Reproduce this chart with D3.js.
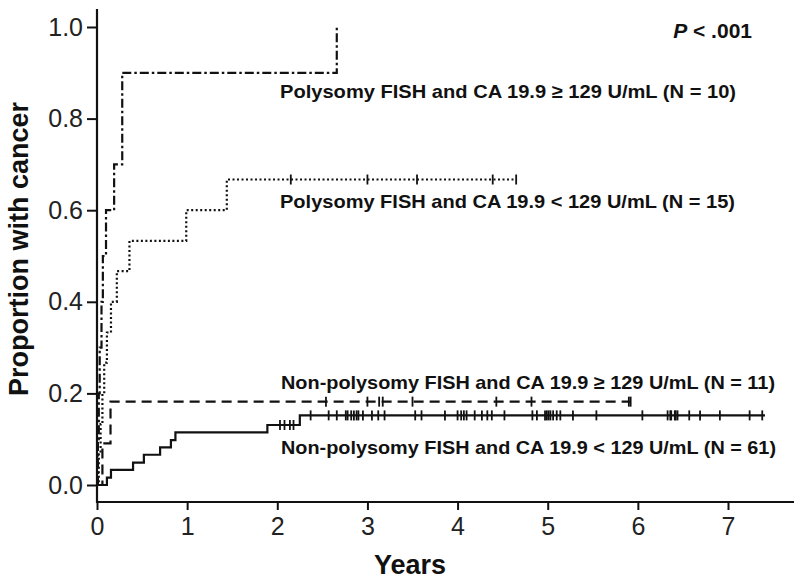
<!DOCTYPE html>
<html>
<head>
<meta charset="utf-8">
<script src="https://cdn.jsdelivr.net/npm/d3@7"></script>
<style>
  body { margin: 0; background: #fff; }
  svg { font-family: "Liberation Sans", Arial, Helvetica, sans-serif; }
</style>
</head>
<body>
<svg id="chart" width="800" height="580"></svg>
<script>
// axis ticks
var yearTicks = [0, 1, 2, 3, 4, 5, 6, 7];
var proportionTicks = [0, 0.2, 0.4, 0.6, 0.8, 1.0];

// Polysomy FISH, CA 19.9 >= 129 (N = 10)
var polyHighTimes = [0.01, 0.02, 0.03, 0.05, 0.065, 0.10, 0.19, 0.28, 0.28, 2.66];
var polyHighLevels = [0.1, 0.2, 0.3, 0.4, 0.5, 0.6, 0.7, 0.8, 0.9, 1.0];
var polyHighCensor = [];
var polyHighEnd = 2.66;

// Polysomy FISH, CA 19.9 < 129 (N = 15)
var polyLowTimes = [0.02, 0.04, 0.06, 0.08, 0.11, 0.155, 0.22, 0.36, 0.99, 1.44];
var polyLowLevels = [0.067, 0.133, 0.2, 0.267, 0.333, 0.4, 0.467, 0.533, 0.6, 0.667];
var polyLowCensor = [2.15, 3.0, 3.55, 4.39, 4.65];
var polyLowEnd = 4.65;

// Non-polysomy FISH, CA 19.9 >= 129 (N = 11)
var nonHighTimes = [0.06, 0.15];
var nonHighLevels = [0.091, 0.182];
var nonHighCensor = [2.54, 3.0, 3.13, 3.17, 3.5, 4.43, 4.82, 5.9, 5.92];
var nonHighEnd = 5.92;

// Non-polysomy FISH, CA 19.9 < 129 (N = 61)
var nonLowTimes = [0.11, 0.155, 0.40, 0.52, 0.70, 0.82, 0.87, 1.89, 2.25];
var nonLowLevels = [0.016, 0.033, 0.049, 0.066, 0.082, 0.098, 0.115, 0.131, 0.152];
var nonLowCensor = [2.03, 2.08, 2.14, 2.18,
  2.37, 2.57, 2.66, 2.76, 2.78, 2.82, 2.85, 2.88, 2.90, 2.95, 3.05, 3.12, 3.19,
  3.53, 3.60, 3.86, 4.00, 4.04, 4.07, 4.10, 4.19, 4.27, 4.33, 4.38, 4.52,
  4.83, 4.88, 4.97, 4.99, 5.01, 5.03, 5.06, 5.10, 5.14, 5.28, 5.54,
  6.05, 6.33, 6.36, 6.37, 6.41, 6.42, 6.44, 6.57, 6.69, 6.91, 7.24, 7.38];
var nonLowEnd = 7.41;

var seriesLabels = [
  'Polysomy FISH and CA 19.9 \u2265 129 U/mL (N = 10)',
  'Polysomy FISH and CA 19.9 < 129 U/mL (N = 15)',
  'Non-polysomy FISH and CA 19.9 \u2265 129 U/mL (N = 11)',
  'Non-polysomy FISH and CA 19.9 < 129 U/mL (N = 61)'
];

var svg = d3.select('#chart');

var x = d3.scaleLinear().domain([0, 7]).range([97, 728]);
var y = d3.scaleLinear().domain([0, 1]).range([485, 27]);

var axisLeftX = 97, axisBottomY = 502;

// axis lines
svg.append('line')
  .attr('x1', axisLeftX).attr('x2', axisLeftX)
  .attr('y1', 9).attr('y2', axisBottomY + 1)
  .attr('stroke', '#111').attr('stroke-width', 2.2);
svg.append('line')
  .attr('x1', axisLeftX - 1).attr('x2', 794)
  .attr('y1', axisBottomY).attr('y2', axisBottomY)
  .attr('stroke', '#111').attr('stroke-width', 2.2);

var yAxis = svg.append('g')
  .attr('transform', 'translate(' + axisLeftX + ',0)')
  .call(d3.axisLeft(y).tickValues(proportionTicks).tickFormat(d3.format('.1f'))
    .tickSize(10).tickPadding(4));
yAxis.select('.domain').remove();
yAxis.selectAll('line').attr('stroke', '#111').attr('stroke-width', 2);
yAxis.selectAll('text').attr('font-size', 25).attr('fill', '#222');

var xAxis = svg.append('g')
  .attr('transform', 'translate(0,' + axisBottomY + ')')
  .call(d3.axisBottom(x).tickValues(yearTicks).tickFormat(d3.format('d'))
    .tickSize(8).tickPadding(7));
xAxis.select('.domain').remove();
xAxis.selectAll('line').attr('stroke', '#111').attr('stroke-width', 2);
xAxis.selectAll('text').attr('font-size', 25).attr('fill', '#222');

// axis titles
svg.append('text')
  .attr('transform', 'translate(28,249) rotate(-90)')
  .attr('text-anchor', 'middle')
  .attr('font-size', 27).attr('font-weight', 'bold').attr('fill', '#111')
  .text('Proportion with cancer');
svg.append('text')
  .attr('x', 410).attr('y', 574)
  .attr('text-anchor', 'middle')
  .attr('font-size', 27).attr('font-weight', 'bold').attr('fill', '#111')
  .text('Years');

var pText = svg.append('text')
  .attr('x', 752).attr('y', 38)
  .attr('text-anchor', 'end')
  .attr('font-size', 21).attr('font-weight', 'bold').attr('fill', '#111');
pText.append('tspan').attr('font-style', 'italic').text('P');
pText.append('tspan').text(' < .001');

// km curves
var stepLine = d3.line()
  .x(function(d) { return x(d[0]); })
  .y(function(d) { return y(d[1]); })
  .curve(d3.curveStepAfter);

function levelAt(times, levels, t) {
  var lv = 0;
  for (var i = 0; i < times.length; i++) {
    if (times[i] <= t) lv = levels[i];
  }
  return lv;
}

function drawCurve(times, levels, censor, end, dash) {
  var pts = [[0, 0]];
  for (var i = 0; i < times.length; i++) pts.push([times[i], levels[i]]);
  if (end > times[times.length - 1]) pts.push([end, levels[levels.length - 1]]);

  svg.append('path')
    .attr('d', stepLine(pts))
    .attr('fill', 'none')
    .attr('stroke', '#111')
    .attr('stroke-width', 2.2)
    .attr('stroke-dasharray', dash);

  svg.selectAll(null)
    .data(censor)
    .enter().append('line')
    .attr('x1', function(d) { return x(d); })
    .attr('x2', function(d) { return x(d); })
    .attr('y1', function(d) { return y(levelAt(times, levels, d)) - 5; })
    .attr('y2', function(d) { return y(levelAt(times, levels, d)) + 5; })
    .attr('stroke', '#111')
    .attr('stroke-width', 1.8);
}

drawCurve(nonLowTimes, nonLowLevels, nonLowCensor, nonLowEnd, null);
drawCurve(nonHighTimes, nonHighLevels, nonHighCensor, nonHighEnd, '10,6');
drawCurve(polyLowTimes, polyLowLevels, polyLowCensor, polyLowEnd, '2,2.5');
drawCurve(polyHighTimes, polyHighLevels, polyHighCensor, polyHighEnd, '9,3,2.5,3');

// series labels
var labelPos = [[280, 98, 456], [280, 208, 455], [281, 389, 494], [281, 454, 495]];
seriesLabels.forEach(function(s, i) {
  svg.append('text')
    .attr('x', labelPos[i][0]).attr('y', labelPos[i][1])
    .attr('font-size', 19).attr('font-weight', 'bold').attr('fill', '#111')
    .attr('textLength', labelPos[i][2]).attr('lengthAdjust', 'spacingAndGlyphs')
    .text(s);
});
</script>
</body>
</html>
